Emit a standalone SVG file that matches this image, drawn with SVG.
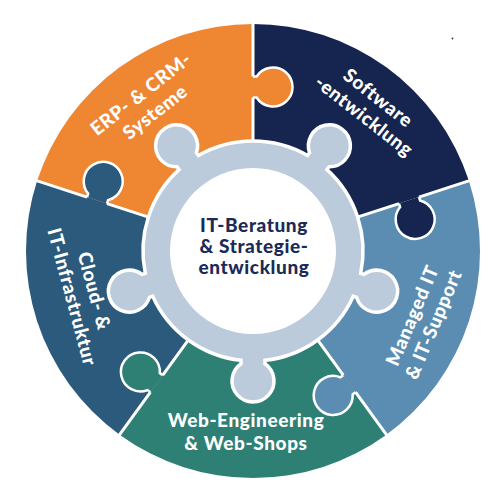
<svg xmlns="http://www.w3.org/2000/svg" width="500" height="500" viewBox="0 0 500 500">
<style>
.seg{stroke:none}
.bnd{stroke:#fff;stroke-width:3;fill:none}
.tab{stroke:#fff;stroke-width:2.5}
.lbl{font-family:Lato,"Noto Sans",sans-serif;font-weight:900;font-size:19px;letter-spacing:0.6px;fill:#fff;text-anchor:middle}
.ctr{font-family:Lato,"Noto Sans",sans-serif;font-weight:900;font-size:19px;letter-spacing:0.6px;fill:#1B2A56;text-anchor:middle}
</style>
<rect width="500" height="500" fill="#fff"/>
<g id="seg-erp">
<path class="seg" fill="#EE8632" d="M253,251 L37.11,180.85 A227,227 0 0 1 253,24 Z"/>
</g>
<g id="seg-software">
<path class="seg" fill="#16254F" d="M253,251 L253,24 A227,227 0 0 1 468.89,180.85 Z"/>
</g>
<g id="seg-managed">
<path class="seg" fill="#5A8DB1" d="M253,251 L468.89,180.85 A227,227 0 0 1 386.43,434.65 Z"/>
</g>
<g id="seg-web">
<path class="seg" fill="#2E8075" d="M253,251 L386.43,434.65 A227,227 0 0 1 119.57,434.65 Z"/>
</g>
<g id="seg-cloud">
<path class="seg" fill="#2C5A7C" d="M253,251 L119.57,434.65 A227,227 0 0 1 37.11,180.85 Z"/>
</g>
<g id="connectors">
<path class="bnd" d="M253,151 L253,97.5 M253,76.5 L253,21"/>
<path class="bnd" d="M348.11,220.10 L398.99,203.57 M418.96,197.08 L471.74,179.93"/>
<path class="bnd" d="M311.78,331.90 L343.23,375.18 M355.57,392.17 L388.19,437.07"/>
<path class="bnd" d="M194.22,331.90 L162.77,375.18 M150.43,392.17 L117.81,437.07"/>
<path class="bnd" d="M157.89,220.10 L107.01,203.57 M87.04,197.08 L34.26,179.93"/>
<path class="tab" fill="#EE8632" d="M253,97.5 L256.6,97.5 A19.5,19.5 0 1 0 256.6,76.5 L253,76.5"/>
<path class="tab" fill="#16254F" d="M398.99,203.57 L400.10,206.99 A19.5,19.5 0 1 0 420.07,200.50 L418.96,197.08"/>
<path class="tab" fill="#5A8DB1" d="M343.23,375.18 L340.32,377.30 A19.5,19.5 0 1 0 352.66,394.29 L355.57,392.17"/>
<path class="tab" fill="#2E8075" d="M162.77,375.18 L159.86,373.06 A19.5,19.5 0 1 0 147.52,390.05 L150.43,392.17"/>
<path class="tab" fill="#2C5A7C" d="M107.01,203.57 L108.12,200.15 A19.5,19.5 0 1 0 88.15,193.66 L87.04,197.08"/>
</g>
<g id="center">
<path fill="#BCCBDC" stroke="#fff" stroke-width="3.5" d="M360.70,273.38 L363.96,274.43 A21,21 0 1 1 356.54,297.26 L353.28,296.20 A110,110 0 0 1 265,360.34 L265,363.77 A21,21 0 1 1 241,363.77 L241,360.34 A110,110 0 0 1 152.72,296.20 L149.46,297.26 A21,21 0 1 1 142.04,274.43 L145.30,273.38 A110,110 0 0 1 179.02,169.59 L177.01,166.82 A21,21 0 1 1 196.43,152.72 L198.44,155.49 A110,110 0 0 1 307.56,155.49 L309.57,152.72 A21,21 0 1 1 328.99,166.82 L326.98,169.59 A110,110 0 0 1 360.70,273.38 Z"/>
<circle cx="253" cy="251" r="83" fill="#fff"/>
<text class="ctr" x="254" y="232">IT-Beratung</text>
<text class="ctr" x="254" y="253">&amp; Strategie-</text>
<text class="ctr" x="254" y="274">entwicklung</text>
</g>
<g id="label-erp" transform="translate(148,103) rotate(-38)">
<text class="lbl" x="0" y="-5">ERP- &amp; CRM-</text>
<text class="lbl" x="0" y="18">Systeme</text>
</g>
<g id="label-software" transform="translate(371,107) rotate(38)">
<text class="lbl" x="0" y="-5">Software</text>
<text class="lbl" x="0" y="18">-entwicklung</text>
</g>
<g id="label-managed" transform="translate(423,320) rotate(-67)">
<text class="lbl" x="0" y="-5">Managed IT</text>
<text class="lbl" x="0" y="18">&amp; IT-Support</text>
</g>
<g id="label-web">
<text class="lbl" x="246" y="427">Web-Engineering</text>
<text class="lbl" x="246" y="450">&amp; Web-Shops</text>
</g>
<g id="label-cloud" transform="translate(83,294) rotate(75)">
<text class="lbl" x="0" y="-5">Cloud- &amp;</text>
<text class="lbl" x="0" y="18">IT-Infrastruktur</text>
</g>
<circle cx="452.5" cy="38.5" r="0.9" fill="#333"/>
</svg>
